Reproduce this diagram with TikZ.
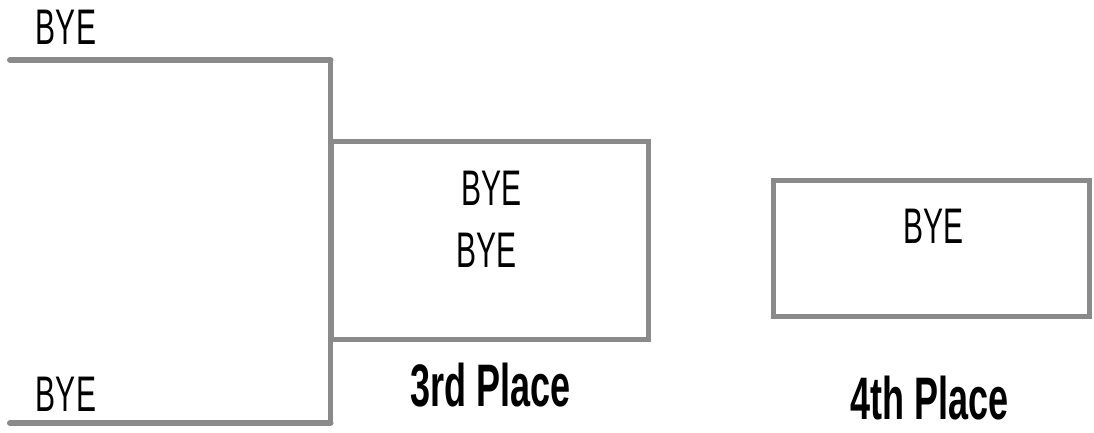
\documentclass[tikz,border=0pt]{standalone}
\usepackage{fontspec}
\setmainfont{Liberation Sans}[FakeStretch=0.6]
\definecolor{linegray}{RGB}{138,138,138}
\begin{document}
\begin{tikzpicture}[x=1pt,y=-1pt,
  bracketline/.style={draw=linegray,line width=#1,line cap=round,line join=miter},
  placebox/.style={draw=linegray,line width=5pt,fill=white,inner sep=0pt},
  byetext/.style={inner sep=0pt,font=\fontsize{50}{54}\selectfont},
  placetext/.style={inner sep=0pt,font=\fontsize{60}{64}\selectfont\bfseries}]
\useasboundingbox (0,0) rectangle (1094,433);
% bracket
\coordinate (topL) at (10,60);
\coordinate (topR) at (330.5,60);
\coordinate (botL) at (10,423);
\coordinate (botR) at (330.5,423);
\draw[bracketline=4.5pt] (topR) -- (botR);
\draw[bracketline=6pt] (topL) -- (topR);
\draw[bracketline=6pt] (botL) -- (botR);
% boxes
\node[placebox,minimum width=317pt,minimum height=198pt] (box3) at (489.5,240.5) {};
\node[placebox,minimum width=316pt,minimum height=136pt] (box4) at (931.5,248) {};
% texts
\node[byetext,anchor=base] (byeTop) at (66,45) {BYE};
\node[byetext,anchor=base] (byeBot) at (66,411) {BYE};
\node[byetext,anchor=base] (bye3a) at (491.5,205) {BYE};
\node[byetext,anchor=base] (bye3b) at (486.5,267) {BYE};
\node[byetext,anchor=base] (bye4) at (933.5,243) {BYE};
\node[placetext,anchor=base] (place3) at (491,406) {3rd Place};
\node[placetext,anchor=base] (place4) at (930,419) {4th Place};
\end{tikzpicture}
\end{document}
